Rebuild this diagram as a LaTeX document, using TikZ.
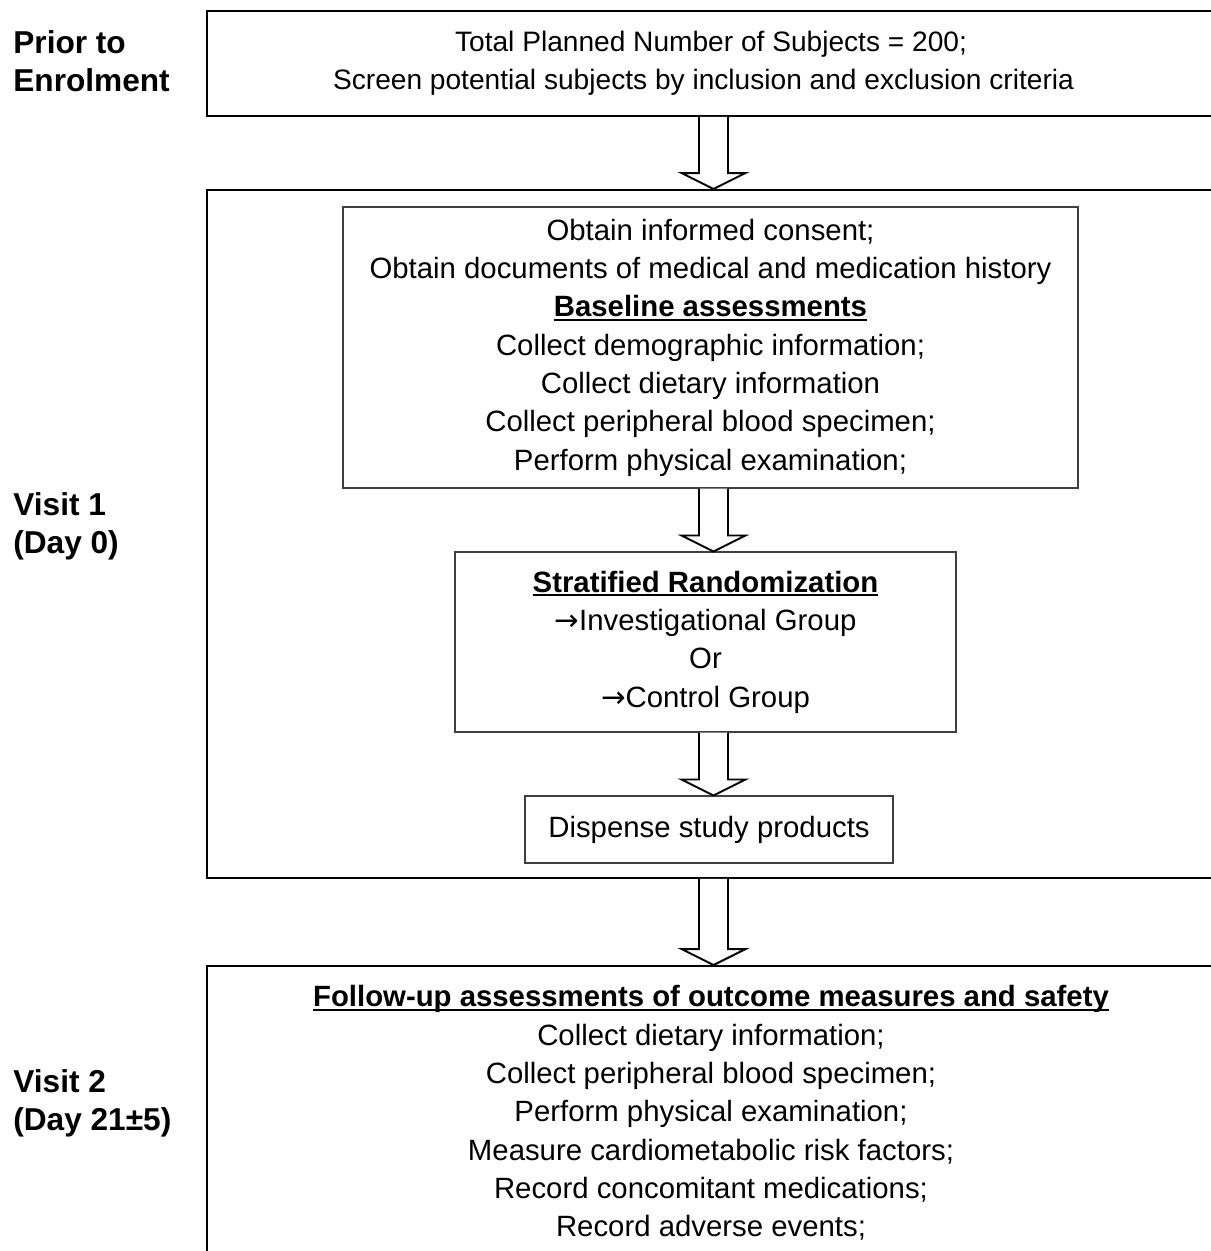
\documentclass[tikz,border=0pt]{standalone}
\usepackage{fontspec}
\setmainfont{Liberation Sans}
\newfontfamily\symfont{DejaVu Sans}
\usepackage{tikz}
\usetikzlibrary{calc}
\tikzstyle{phase}=[rectangle,draw=black,line width=1.1pt,inner sep=0pt,align=center,minimum width=20.16cm]
\tikzstyle{task}=[rectangle,draw=black!75,line width=0.6pt,inner sep=0pt,align=center]
\tikzstyle{period}=[anchor=west,align=left,inner sep=0pt,font=\bfseries\fontsize{18}{21.8}\selectfont]
\tikzstyle{flow}=[draw=black,line width=1.1pt,fill=white,line join=miter]
\newcommand{\blockarrow}[2]{\path[flow] let \p1=(#1), \p2=(#2), \p3=(axis) in
  (\x3-0.29cm,\y1) -- (\x3-0.29cm,\y2+0.32cm) -- (\x3-0.64cm,\y2+0.32cm) -- (\x3,\y2)
  -- (\x3+0.64cm,\y2+0.32cm) -- (\x3+0.29cm,\y2+0.32cm) -- (\x3+0.29cm,\y1);}
\newcommand{\headline}[1]{\setbox0\hbox{\textbf{#1}}\rlap{\rule[-2.3pt]{\wd0}{1.1pt}}\box0}
\newcommand{\toarrow}{{\symfont →}}

\begin{document}
\begin{tikzpicture}[font=\fontsize{16.7}{21.8}\selectfont]

    \path[use as bounding box] (0,0) rectangle (24.22,-25.02);
    \clip (0,0) rectangle (24.22,-25.02);
    \coordinate (axis) at (14.27,0);

    % Phasen
    \node[period] (lbl0) at (0.26,-1.22) {Prior to\\Enrolment};
    \node[period] (lbl1) at (0.26,-10.52) {Visit 1\\(Day 0)};
    \node[period] (lbl2) at (0.26,-22.06) {Visit 2\\(Day 21±5)};

    % Kaesten
    \node[phase, minimum height=2.1cm, font=\fontsize{16}{21.8}\selectfont] (enrol) at (14.22,-1.27) {Total Planned Number of Subjects = 200;\\Screen potential subjects by inclusion and exclusion criteria\hspace*{0.3cm}};
    \node[phase, minimum height=13.76cm] (visit1) at (14.22,-10.68) {};
    \node[task, minimum width=14.7cm, minimum height=5.62cm] (baseline) at (14.21,-6.95) {\rule{0pt}{12pt}Obtain informed consent;\\Obtain documents of medical and medication history\\\headline{Baseline assessments}\\Collect demographic information;\\Collect dietary information\\Collect peripheral blood specimen;\\Perform physical examination;};
    \node[task, minimum width=10.02cm, minimum height=3.6cm] (random) at (14.11,-12.84) {\headline{Stratified Randomization}\\\toarrow Investigational Group\\Or\\\toarrow Control Group};
    \node[task, minimum width=7.36cm, minimum height=1.34cm] (dispense) at (14.18,-16.59) {Dispense study products};
    \node[phase, minimum height=5.88cm] (visit2) at (14.22,-22.26) {\headline{Follow-up assessments of outcome measures and safety}\\Collect dietary information;\\Collect peripheral blood specimen;\\Perform physical examination;\\Measure cardiometabolic risk factors;\\Record concomitant medications;\\Record adverse events;};

    % Pfeile
    \blockarrow{enrol.south}{visit1.north}
    \blockarrow{baseline.south}{random.north}
    \blockarrow{random.south}{dispense.north}
    \blockarrow{visit1.south}{visit2.north}

\end{tikzpicture}
\end{document}
